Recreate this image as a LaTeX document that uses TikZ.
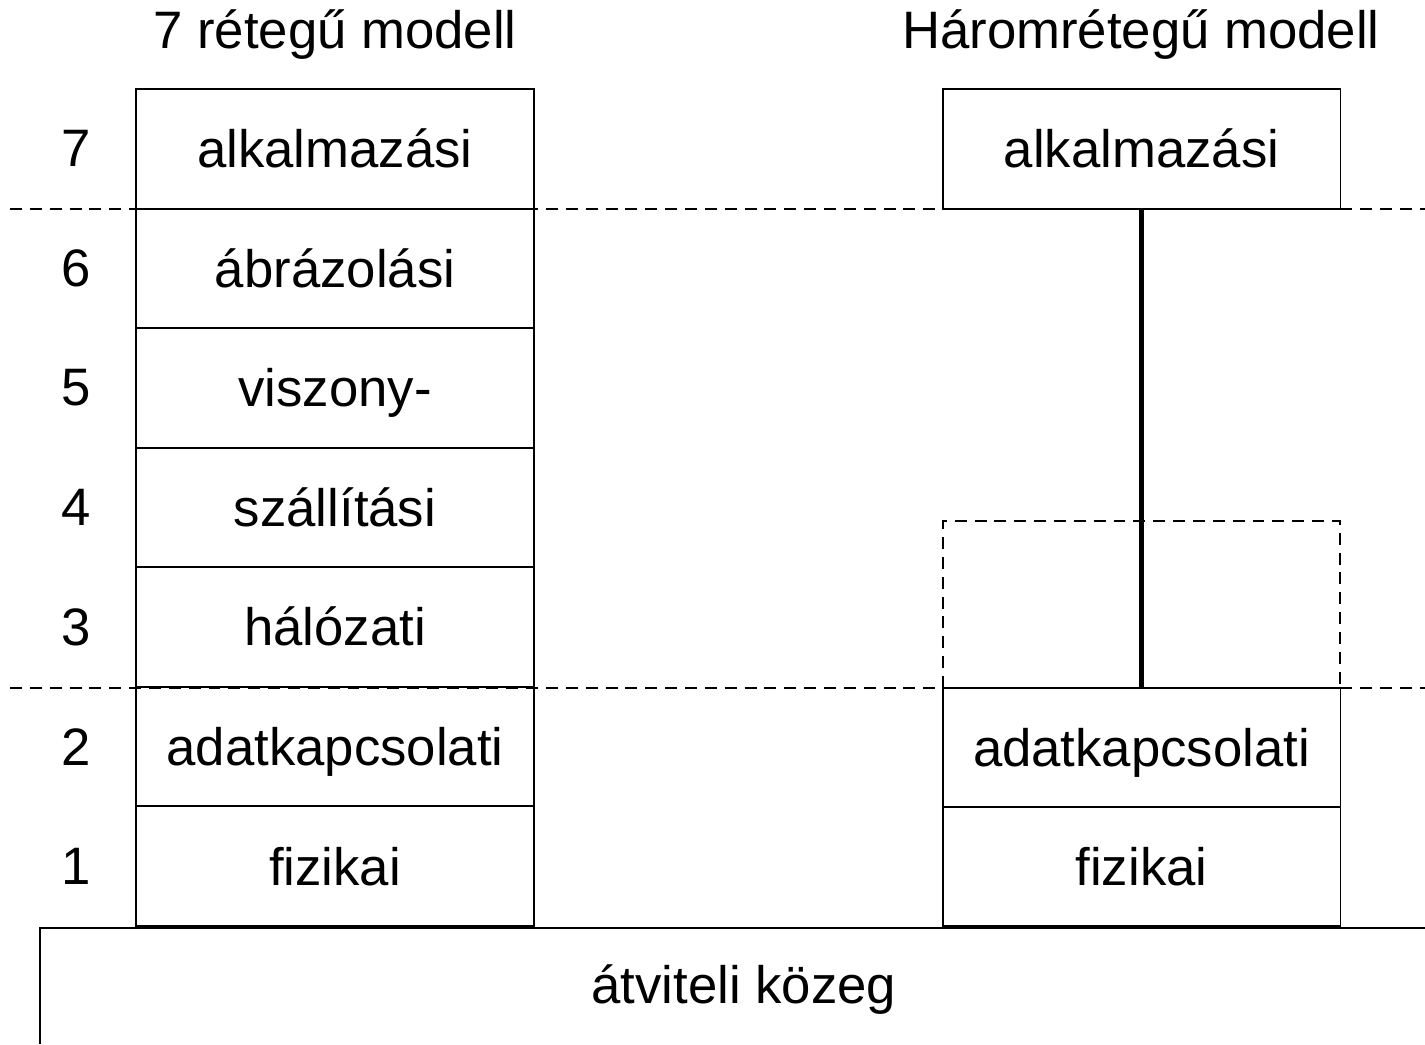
\documentclass[tikz,border=0pt]{standalone}
\usepackage{fontspec}
\setmainfont{Liberation Sans}
\usepackage{tikz}

\tikzset{
  layer/.style={draw, line width=1.1pt, minimum width=7.96cm, minimum height=2.39cm, inner sep=0pt,
    text height=21.5pt, text depth=0pt},
  sep/.style={line width=0.9pt, dash pattern=on 6.8pt off 4.5pt},
}

\begin{document}
\begin{tikzpicture}
  [x=0.02cm, y=-0.02cm, font=\fontsize{30}{36}\selectfont]
  \useasboundingbox (0, 0) rectangle (1425, 1044);

  \node (title7) at (335, 35) {7 rétegű modell};
  \node (title3) at (1141, 35) {Háromrétegű modell};

  % seven layer stack with its numbers
  \foreach \n/\name [evaluate=\n as \y using {89 + (7.5-\n)*119.57}] in
    {7/alkalmazási, 6/ábrázolási, 5/viszony-, 4/szállítási, 3/hálózati, 2/adatkapcsolati, 1/fizikai} {
    \node [layer] (osi\n) at (335, \y) {\name};
    \node (num\n) at (76, \y) {\n};
  }

  % three layer stack
  \node [layer] (app) at (1141.5, 149) {alkalmazási};
  \node [layer] (link) at (1141.5, 747.5) {adatkapcsolati};
  \node [layer] (phy) at (1141.5, 866.5) {fizikai};
  \draw [sep] (943, 688) rectangle (1340, 521);
  \draw [line width=2.9pt] (app.south) -- (link.north);

  \draw [sep] (10, 209) -- (1425, 209);
  \draw [sep] (10, 688) -- (1425, 688);

  % medium
  \draw [line width=1.1pt] (40, 1044) -- (40, 928) -- (1425, 928);
  \node (medium) at (744, 990) {átviteli közeg};
\end{tikzpicture}
\end{document}
